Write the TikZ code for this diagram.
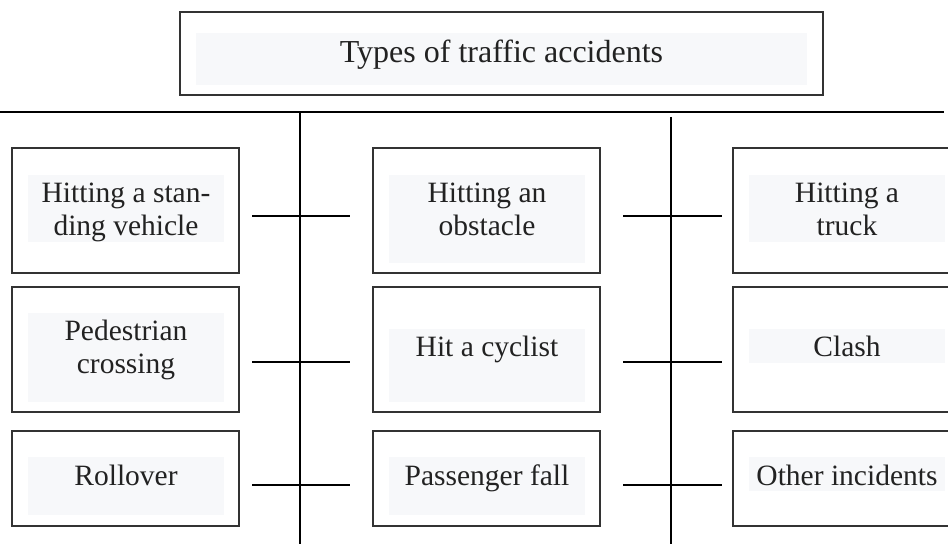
\documentclass[tikz,border=0pt]{standalone}
\usepackage{fontspec}
\setmainfont{Liberation Serif}
\definecolor{boxline}{HTML}{333333}
\definecolor{textbg}{HTML}{F7F8FA}
\definecolor{ink}{HTML}{222222}

\begin{document}
\begin{tikzpicture}[x=1pt,y=1pt,
  cell/.style={draw=boxline,line width=1.2pt,minimum width=227pt,minimum height=125pt,inner sep=0pt},
  celltext/.style={anchor=base,align=center,text=ink,font=\fontsize{29.5}{33}\selectfont},
  wire/.style={line width=1.2pt}]
  \useasboundingbox (0,0) rectangle (948,544);
  % Title
  \node[cell,minimum width=643pt,minimum height=83pt] (title) at (501.5,490.5) {};
  \fill[textbg] (196,459) rectangle (807,511);
  \node[celltext,font=\fontsize{32}{36}\selectfont] (titletext) at (501.5,481) {Types of traffic accidents};
  % Bus lines
  \coordinate (busL) at (0,432);
  \coordinate (busR) at (944,432);
  \coordinate (stemA) at (300,432);
  \coordinate (footA) at (300,0);
  \coordinate (stemB) at (671,427);
  \coordinate (footB) at (671,0);
  \draw[wire] (busL) -- (busR);
  \draw[wire] (stemA) -- (footA);
  \draw[wire] (stemB) -- (footB);
  % Branches
  \foreach \y/\n in {328/1,182/2,59/3} {
    \coordinate (ta\n) at (252,\y);
    \coordinate (tb\n) at (350,\y);
    \coordinate (tc\n) at (623,\y);
    \coordinate (td\n) at (722,\y);
    \draw[wire] (ta\n) -- (tb\n);
    \draw[wire] (tc\n) -- (td\n);
  }
  % Row 1 (base anchor = last line)
  \node[cell] (standing) at (125.5,333.5) {};
  \fill[textbg] (28,302) rectangle (224,369);
  \node[celltext] (standingtext) at (126,308) {Hitting a stan-\\ding vehicle};
  \node[cell] (obstacle) at (486.5,333.5) {};
  \fill[textbg] (389,281) rectangle (585,369);
  \node[celltext] (obstacletext) at (487,308) {Hitting an\\obstacle};
  \node[cell] (truck) at (846.5,333.5) {};
  \fill[textbg] (749,302) rectangle (945,369);
  \node[celltext] (trucktext) at (847,308) {Hitting a\\truck};
  % Row 2
  \node[cell] (pedestrian) at (125.5,194.5) {};
  \fill[textbg] (28,142) rectangle (224,231);
  \node[celltext] (pedestriantext) at (126,170) {Pedestrian\\crossing};
  \node[cell] (cyclist) at (486.5,194.5) {};
  \fill[textbg] (389,142) rectangle (585,215);
  \node[celltext] (cyclisttext) at (487,187) {Hit a cyclist};
  \node[cell] (clash) at (846.5,194.5) {};
  \fill[textbg] (749,181) rectangle (945,215);
  \node[celltext] (clashtext) at (847,187) {Clash};
  % Row 3
  \node[cell,minimum height=95pt] (rollover) at (125.5,65.5) {};
  \fill[textbg] (28,29) rectangle (224,87);
  \node[celltext] (rollovertext) at (126,59) {Rollover};
  \node[cell,minimum height=95pt] (passenger) at (486.5,65.5) {};
  \fill[textbg] (389,29) rectangle (585,87);
  \node[celltext] (passengertext) at (487,59) {Passenger fall};
  \node[cell,minimum height=95pt] (other) at (846.5,65.5) {};
  \fill[textbg] (749,53) rectangle (945,87);
  \node[celltext] (othertext) at (847,59) {Other incidents};
\end{tikzpicture}
\end{document}
